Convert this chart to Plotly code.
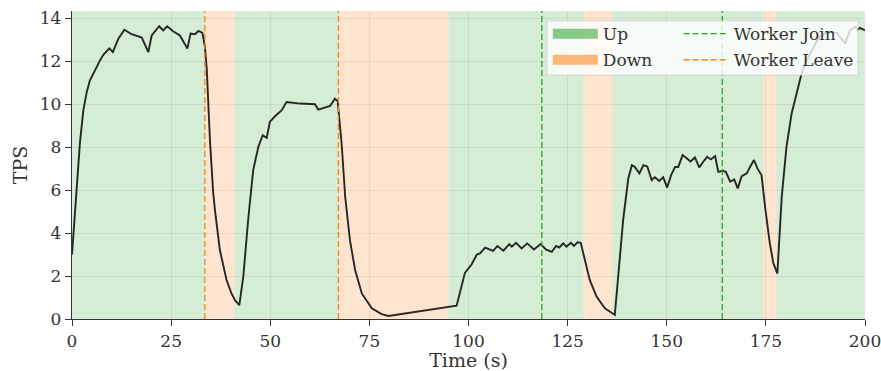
import plotly.graph_objects as go

# ---------------- data ----------------
time_s = [0, 1.2, 2.0, 2.85, 3.7, 4.5, 5.8, 7.1, 7.9, 8.75, 9.4, 10.3, 11.7, 13.2, 15.05,
          17.6, 19.25, 20.1, 22.0, 23.0, 24.0, 25.5, 27.2, 29.1, 29.9, 31.0, 31.9, 32.9,
          33.5, 34.0, 34.8, 35.6, 36.1, 37.3, 39.0, 40.2, 41.1, 42.2, 43.2, 44.5, 45.7, 47.0,
          48.1, 49.1, 49.9, 51.2, 52.9, 54.1, 57.5, 61.3, 62.1, 65.1, 66.3, 67.0,
          68.0, 68.9, 70.1, 71.4, 73.1, 75.6, 78.1, 79.8, 97.0, 99.1, 100.8, 102.1, 102.9,
          104.2, 105.4, 106.2, 107.3, 108.8, 110.3, 110.9, 112.0, 113.4, 114.8, 116.5,
          118.2, 119.5, 121.0, 122.1, 122.9, 123.9, 124.7, 125.8, 126.6, 127.5, 128.3,
          129.4, 130.6, 132.3, 134.4, 136.9, 139.0, 140.3, 141.2, 141.9, 143.1, 144.1,
          145.1, 146.2, 147.0, 148.1, 149.1, 150.1, 151.1, 152.1, 152.9, 154.0, 155.2,
          156.0, 157.1, 158.2, 159.2, 160.2, 161.1, 162.2, 163.0, 164.1, 164.9, 166.0,
          167.0, 167.9, 168.9, 170.2, 171.0, 172.0, 172.9, 173.9, 174.9, 176.0, 176.9,
          177.9, 179.0, 180.2, 181.5, 182.8, 184.0, 185.3, 187.0, 188.2, 190.3, 192.9,
          195.0, 196.2, 197.5, 198.2, 198.7, 200.0]
tps = [3.0, 6.0, 8.2, 9.7, 10.55, 11.1, 11.6, 12.05, 12.3, 12.5, 12.6, 12.43, 13.05, 13.47, 13.26,
       13.1, 12.43, 13.2, 13.63, 13.44, 13.63, 13.4, 13.2, 12.59, 13.29, 13.26, 13.41, 13.32,
       12.7, 11.6, 8.3, 5.9, 5.0, 3.2, 1.8, 1.2, 0.88, 0.65, 1.97, 4.76, 6.93, 8.02,
       8.56, 8.43, 9.18, 9.44, 9.72, 10.1, 10.03, 10.0, 9.75, 9.92, 10.26, 10.15,
       8.17, 5.69, 3.67, 2.28, 1.19, 0.5, 0.23, 0.14, 0.62, 2.15, 2.55, 3.0, 3.05,
       3.32, 3.21, 3.17, 3.4, 3.18, 3.49, 3.37, 3.55, 3.29, 3.52, 3.24,
       3.49, 3.24, 3.13, 3.4, 3.33, 3.52, 3.37, 3.55, 3.4, 3.57, 3.55,
       2.74, 1.81, 1.04, 0.5, 0.19, 4.6, 6.54, 7.16, 7.09, 6.78, 7.16,
       7.1, 6.47, 6.6, 6.43, 6.6, 6.12, 6.7, 7.08, 7.08, 7.63, 7.43,
       7.33, 7.52, 7.06, 7.32, 7.55, 7.43, 7.58, 6.85, 6.9, 6.85, 6.39,
       6.5, 6.08, 6.65, 6.78, 7.08, 7.4, 7.0, 6.7, 5.07, 3.52, 2.59,
       2.12, 5.69, 8.02, 9.57, 10.5, 11.43, 12.05, 12.67, 13.05, 13.36, 13.32,
       12.82, 13.44, 13.6, 13.47, 13.55, 13.44]

up_start = [0, 41.0, 95.0, 136.3, 177.6]
up_end = [33.5, 67.2, 129.0, 174.4, 200.0]
down_start = [33.5, 67.2, 129.0, 174.4]
down_end = [41.0, 95.0, 136.3, 177.6]
join_times = [118.5, 164.0]
leave_times = [33.5, 67.2]

x_ticks = [0, 25, 50, 75, 100, 125, 150, 175, 200]
y_ticks = [0, 2, 4, 6, 8, 10, 12, 14]
x_range = [0, 200]
y_range = [0, 14.34]

# ---------------- style ----------------
FONT = "DejaVu Serif"
TXT = "#333333"
GREEN_SPAN = "rgba(44,160,44,0.2)"
ORANGE_SPAN = "rgba(255,127,14,0.2)"
GREEN_PATCH = "rgba(44,160,44,0.55)"
ORANGE_PATCH = "rgba(255,127,14,0.55)"
GREEN_LINE = "#2ca02c"
ORANGE_LINE = "#ff7f0e"
DASH = "6px,3px"

fig = go.Figure()

shapes = []
for a, b in zip(up_start, up_end):
    shapes.append(dict(type="rect", xref="x", yref="y domain", x0=a, x1=b, y0=0, y1=1,
                       fillcolor=GREEN_SPAN, line=dict(width=0), layer="below"))
for a, b in zip(down_start, down_end):
    shapes.append(dict(type="rect", xref="x", yref="y domain", x0=a, x1=b, y0=0, y1=1,
                       fillcolor=ORANGE_SPAN, line=dict(width=0), layer="below"))

fig.add_trace(go.Scatter(x=time_s, y=tps, mode="lines",
                         line=dict(color="#262626", width=1.9),
                         showlegend=False, hoverinfo="skip"))

for t in join_times:
    shapes.append(dict(type="line", xref="x", yref="y domain", x0=t, x1=t, y0=0, y1=1,
                       line=dict(color=GREEN_LINE, width=1.3, dash=DASH), layer="above"))
for t in leave_times:
    shapes.append(dict(type="line", xref="x", yref="y domain", x0=t, x1=t, y0=0, y1=1,
                       line=dict(color=ORANGE_LINE, width=1.3, dash=DASH), layer="above"))

# legend box background
shapes.append(dict(type="rect", xref="paper", yref="paper",
                   x0=0.599, x1=0.991, y0=0.792, y1=0.9675,
                   fillcolor="rgba(255,255,255,0.8)",
                   line=dict(color="rgba(210,210,210,0.8)", width=1), layer="above"))

# legend entries
fig.add_trace(go.Scatter(x=[None], y=[None], mode="lines", name="Up",
                         line=dict(color=GREEN_PATCH, width=12), legend="legend",
                         legendgroup="up"))
fig.add_trace(go.Scatter(x=[None], y=[None], mode="lines", name="Down",
                         line=dict(color=ORANGE_PATCH, width=12), legend="legend",
                         legendgroup="down"))
fig.add_trace(go.Scatter(x=[None], y=[None], mode="lines", name="Worker Join",
                         line=dict(color=GREEN_LINE, width=1.3, dash=DASH), legend="legend2",
                         legendgroup="join"))
fig.add_trace(go.Scatter(x=[None], y=[None], mode="lines", name="Worker Leave",
                         line=dict(color=ORANGE_LINE, width=1.3, dash=DASH), legend="legend2",
                         legendgroup="leave"))

axis_common = dict(ticks="outside", ticklen=6, tickwidth=1.2, tickcolor=TXT,
                   showline=True, linecolor=TXT, linewidth=1.3, automargin=False,
                   ticklabeloverflow="allow",
                   showgrid=True, gridcolor="rgba(0,0,0,0.07)", gridwidth=1,
                   zeroline=False, tickfont=dict(family=FONT, size=17, color=TXT))

fig.update_layout(
    width=881, height=371,
    margin=dict(l=72, r=16, t=11, b=52, autoexpand=False),
    plot_bgcolor="white", paper_bgcolor="white",
    font=dict(family=FONT, size=17, color=TXT),
    shapes=shapes,
    xaxis=dict(range=x_range, tickvals=x_ticks, title=dict(text="Time (s)", standoff=6,
               font=dict(family=FONT, size=19, color=TXT)), **axis_common),
    yaxis=dict(range=y_range, tickvals=y_ticks, title=dict(text="TPS", standoff=7,
               font=dict(family=FONT, size=19, color=TXT)), **axis_common),
    legend=dict(x=0.600, y=0.9835, xanchor="left", yanchor="top", bgcolor="rgba(0,0,0,0)",
                borderwidth=0, itemwidth=45, tracegroupgap=1,
                font=dict(family=FONT, size=17, color=TXT)),
    legend2=dict(x=0.765, y=0.9835, xanchor="left", yanchor="top", bgcolor="rgba(0,0,0,0)",
                 borderwidth=0, itemwidth=45, tracegroupgap=1,
                 font=dict(family=FONT, size=17, color=TXT)),
)

fig.write_html("out.html")
